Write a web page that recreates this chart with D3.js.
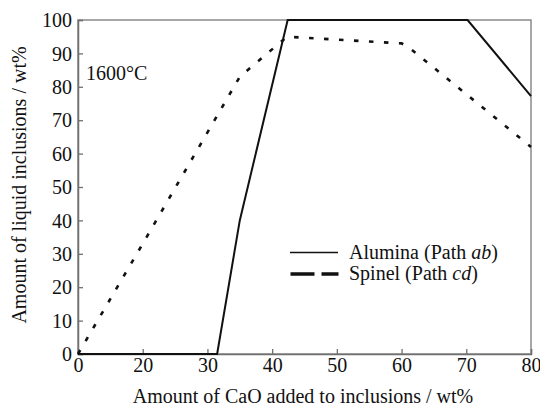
<!DOCTYPE html>
<html><head><meta charset="utf-8">
<script src="https://cdn.jsdelivr.net/npm/d3@7"></script>
</head><body style="margin:0">
<svg id="c" width="540" height="409"></svg>
<script>
// x axis ticks as printed (evenly spaced labels 0,20,30,...,80)
const xTicks = [0, 20, 30, 40, 50, 60, 70, 80];
const yTicks = [0, 10, 20, 30, 40, 50, 60, 70, 80, 90, 100];
const aluminaX = [0, 31.5, 35, 42.4, 70.2, 80];
const aluminaY = [0, 0, 40, 100, 100, 77.2];
const spinelX = [0, 20, 35, 42.3, 60, 61, 80];
const spinelY = [0, 33, 83, 95, 93, 92, 62];
const seriesNames = ["Alumina (Path ", "Spinel (Path "];
const seriesItal = ["ab", "cd"];

const FONT = '"Liberation Serif", "Times New Roman", Tinos, serif';
const L = 78, R = 531, T = 20, B = 354;
const svg = d3.select("#c");
const x = d3.scaleLinear().domain([0, 20, 80]).range([L, L + (R - L) / 7, R]);
const y = d3.scaleLinear().domain([0, 100]).range([B, T]);

// frame
svg.append("rect").attr("x", L).attr("y", T).attr("width", R - L).attr("height", B - T)
  .attr("fill", "none").attr("stroke", "#8a8a8a").attr("stroke-width", 1.5);

const xa = svg.append("g").attr("transform", `translate(0,${B})`)
  .call(d3.axisBottom(x).tickValues(xTicks).tickSize(-5).tickPadding(4).tickFormat(d3.format("d")));
const ya = svg.append("g").attr("transform", `translate(${L},0)`)
  .call(d3.axisLeft(y).tickValues(yTicks).tickSize(-5).tickPadding(6).tickFormat(d3.format("d")));
[xa, ya].forEach(a => {
  a.attr("font-family", FONT).attr("font-size", 20);
  a.select(".domain").attr("stroke", "#707070").attr("stroke-width", 1.5);
  a.selectAll(".tick line").attr("stroke", "#707070").attr("stroke-width", 1.3);
  a.selectAll(".tick text").attr("fill", "#111");
});
xa.selectAll(".tick text").attr("dy", "0.68em");
ya.selectAll(".tick text").attr("dy", "0.33em");

const line = d3.line().x(d => x(d[0])).y(d => y(d[1]));
svg.append("path").datum(spinelX.map((v, i) => [v, spinelY[i]]))
  .attr("d", line).attr("fill", "none").attr("stroke", "#111")
  .attr("stroke-width", 2.6).attr("stroke-dasharray", "4.5,10.5");
svg.append("path").datum(aluminaX.map((v, i) => [v, aluminaY[i]]))
  .attr("d", line).attr("fill", "none").attr("stroke", "#111")
  .attr("stroke-width", 2);

// annotation
svg.append("text").attr("x", 86).attr("y", 80).attr("font-size", 20).attr("fill", "#111").text("1600°C");

// legend
const lg = svg.append("g");
lg.append("line").attr("x1", 290).attr("x2", 338).attr("y1", 252.5).attr("y2", 252.5)
  .attr("stroke", "#111").attr("stroke-width", 1.3);
lg.append("line").attr("x1", 290.5).attr("x2", 338.5).attr("y1", 274).attr("y2", 274)
  .attr("stroke", "#111").attr("stroke-width", 3.6).attr("stroke-dasharray", "24,7");
seriesNames.forEach((n, i) => {
  const t = lg.append("text").attr("x", 349).attr("y", 259 + i * 21).attr("font-size", 20).attr("fill", "#111");
  t.append("tspan").text(n);
  t.append("tspan").attr("font-style", "italic").text(seriesItal[i]);
  t.append("tspan").text(")");
});

// axis titles
svg.append("text").attr("x", 303).attr("y", 403).attr("text-anchor", "middle").attr("font-size", 20)
  .attr("fill", "#111").text("Amount of CaO added to inclusions / wt%");
svg.append("text").attr("transform", "translate(26,185) rotate(-90)").attr("text-anchor", "middle")
  .attr("font-size", 20).attr("fill", "#111").text("Amount of liquid inclusions / wt%");

// enforce serif face on every text element
svg.selectAll("text, tspan").attr("font-family", FONT).style("font-family", FONT, "important");
</script>
</body></html>
